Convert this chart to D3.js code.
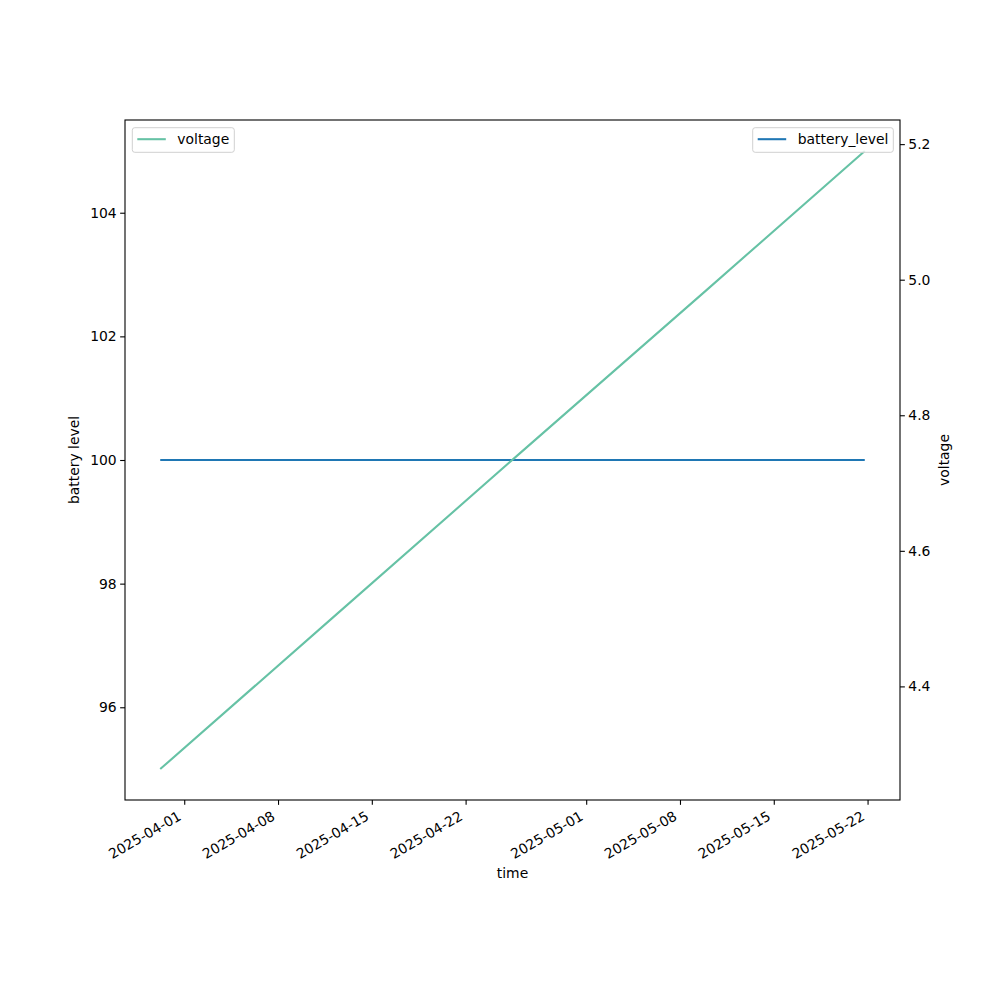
<!DOCTYPE html>
<html><head><meta charset="utf-8">
<script src="https://cdn.jsdelivr.net/npm/d3@7"></script>
<style>body{margin:0;background:#fff}svg{display:block}text{font-family:"DejaVu Sans",sans-serif}</style>
</head><body>
<svg id="c" width="1000" height="1000"></svg>
<script>
const times = ["2025-03-30T05:00","2025-04-12T00:00","2025-04-26T00:00","2025-05-10T00:00","2025-05-21T19:00"];
const batteryLevel = [100,100,100,100,100];
const voltage = [4.278,4.500,4.743,4.985,5.190];
const xTickLabels = ["2025-04-01","2025-04-08","2025-04-15","2025-04-22","2025-05-01","2025-05-08","2025-05-15","2025-05-22"];
const leftTicks = [96,98,100,102,104];
const rightTicks = [4.4,4.6,4.8,5.0,5.2];

const parse = d3.timeParse("%Y-%m-%dT%H:%M");
const parseDay = d3.timeParse("%Y-%m-%d");
const dates = times.map(parse);
const svg = d3.select("#c");
const L=125,R=900,T=120,B=800;
const fs = 13.9;

function pad(ext, f){const s=ext[1]-ext[0];return [ext[0]-s*f, ext[1]+s*f];}
const xd = d3.extent(dates).map(d=>+d);
const xp = pad(xd,0.05);
const x = d3.scaleTime().domain([new Date(xp[0]), new Date(xp[1])]).range([L,R]);
const yL = d3.scaleLinear().domain([94.5,105.5]).range([B,T]);
const vext = d3.extent(voltage);
const yR = d3.scaleLinear().domain(pad(vext,0.05)).range([B,T]);

// lines
const lineV = d3.line().x((d,i)=>x(dates[i])).y(d=>yR(d));
const lineB = d3.line().x((d,i)=>x(dates[i])).y(d=>yL(d));
const plot = svg.append("g");
plot.append("path").datum(batteryLevel).attr("d",lineB).attr("fill","none").attr("stroke","#1f77b4").attr("stroke-width",2.08);
plot.append("path").datum(voltage).attr("d",lineV).attr("fill","none").attr("stroke","#66c2a5").attr("stroke-width",2.08);

// frame
svg.append("rect").attr("x",L).attr("y",T).attr("width",R-L).attr("height",B-T).attr("fill","none").attr("stroke","#000").attr("stroke-width",1.1);

// x axis
const xa = d3.axisBottom(x).tickValues(xTickLabels.map(parseDay)).tickSize(4.86).tickPadding(3.5).tickFormat("");
const gx = svg.append("g").attr("transform",`translate(0,${B})`).call(xa);
gx.select(".domain").remove();
gx.selectAll(".tick line").attr("stroke","#000").attr("stroke-width",1.1);
xTickLabels.forEach(t=>{
  const px = x(parseDay(t));
  svg.append("text").attr("transform",`translate(${px-2},${819}) rotate(-30)`).attr("text-anchor","end").attr("font-size",fs).attr("fill","#000").text(t);
});

// left axis
const gl = svg.append("g").attr("transform",`translate(${L},0)`).call(d3.axisLeft(yL).tickValues(leftTicks).tickSize(4.86).tickPadding(3.5).tickFormat(d3.format("d")));
gl.select(".domain").remove();
gl.selectAll(".tick line").attr("stroke","#000").attr("stroke-width",1.1);
gl.selectAll(".tick text").attr("font-size",fs).attr("font-family","DejaVu Sans").attr("fill","#000");

// right axis
const gr = svg.append("g").attr("transform",`translate(${R},0)`).call(d3.axisRight(yR).tickValues(rightTicks).tickSize(4.86).tickPadding(3.5).tickFormat(d3.format(".1f")));
gr.select(".domain").remove();
gr.selectAll(".tick line").attr("stroke","#000").attr("stroke-width",1.1);
gr.selectAll(".tick text").attr("font-size",fs).attr("font-family","DejaVu Sans").attr("fill","#000");

// axis labels
svg.append("text").attr("x",(L+R)/2).attr("y",878).attr("text-anchor","middle").attr("font-size",fs).text("time");
svg.append("text").attr("transform",`translate(79,${(T+B)/2}) rotate(-90)`).attr("text-anchor","middle").attr("font-size",fs).text("battery level");
svg.append("text").attr("transform",`translate(949,${(T+B)/2}) rotate(-90)`).attr("text-anchor","middle").attr("font-size",fs).text("voltage");

// legends
function legend(x0,y0,w,label,color){
  const g = svg.append("g");
  g.append("rect").attr("x",x0).attr("y",y0).attr("width",w).attr("height",24.6).attr("rx",2.5).attr("fill","#fff").attr("fill-opacity",0.8).attr("stroke","#d0d0d0").attr("stroke-width",1);
  g.append("line").attr("x1",x0+5).attr("x2",x0+33.5).attr("y1",y0+11.5).attr("y2",y0+11.5).attr("stroke",color).attr("stroke-width",2.08);
  g.append("text").attr("x",x0+45).attr("y",y0+16.5).attr("font-size",fs).attr("fill","#000").text(label);
}
legend(132.3,127.7,102,"voltage","#66c2a5");
legend(752.7,127.7,140.6,"battery_level","#1f77b4");
</script>
</body></html>
